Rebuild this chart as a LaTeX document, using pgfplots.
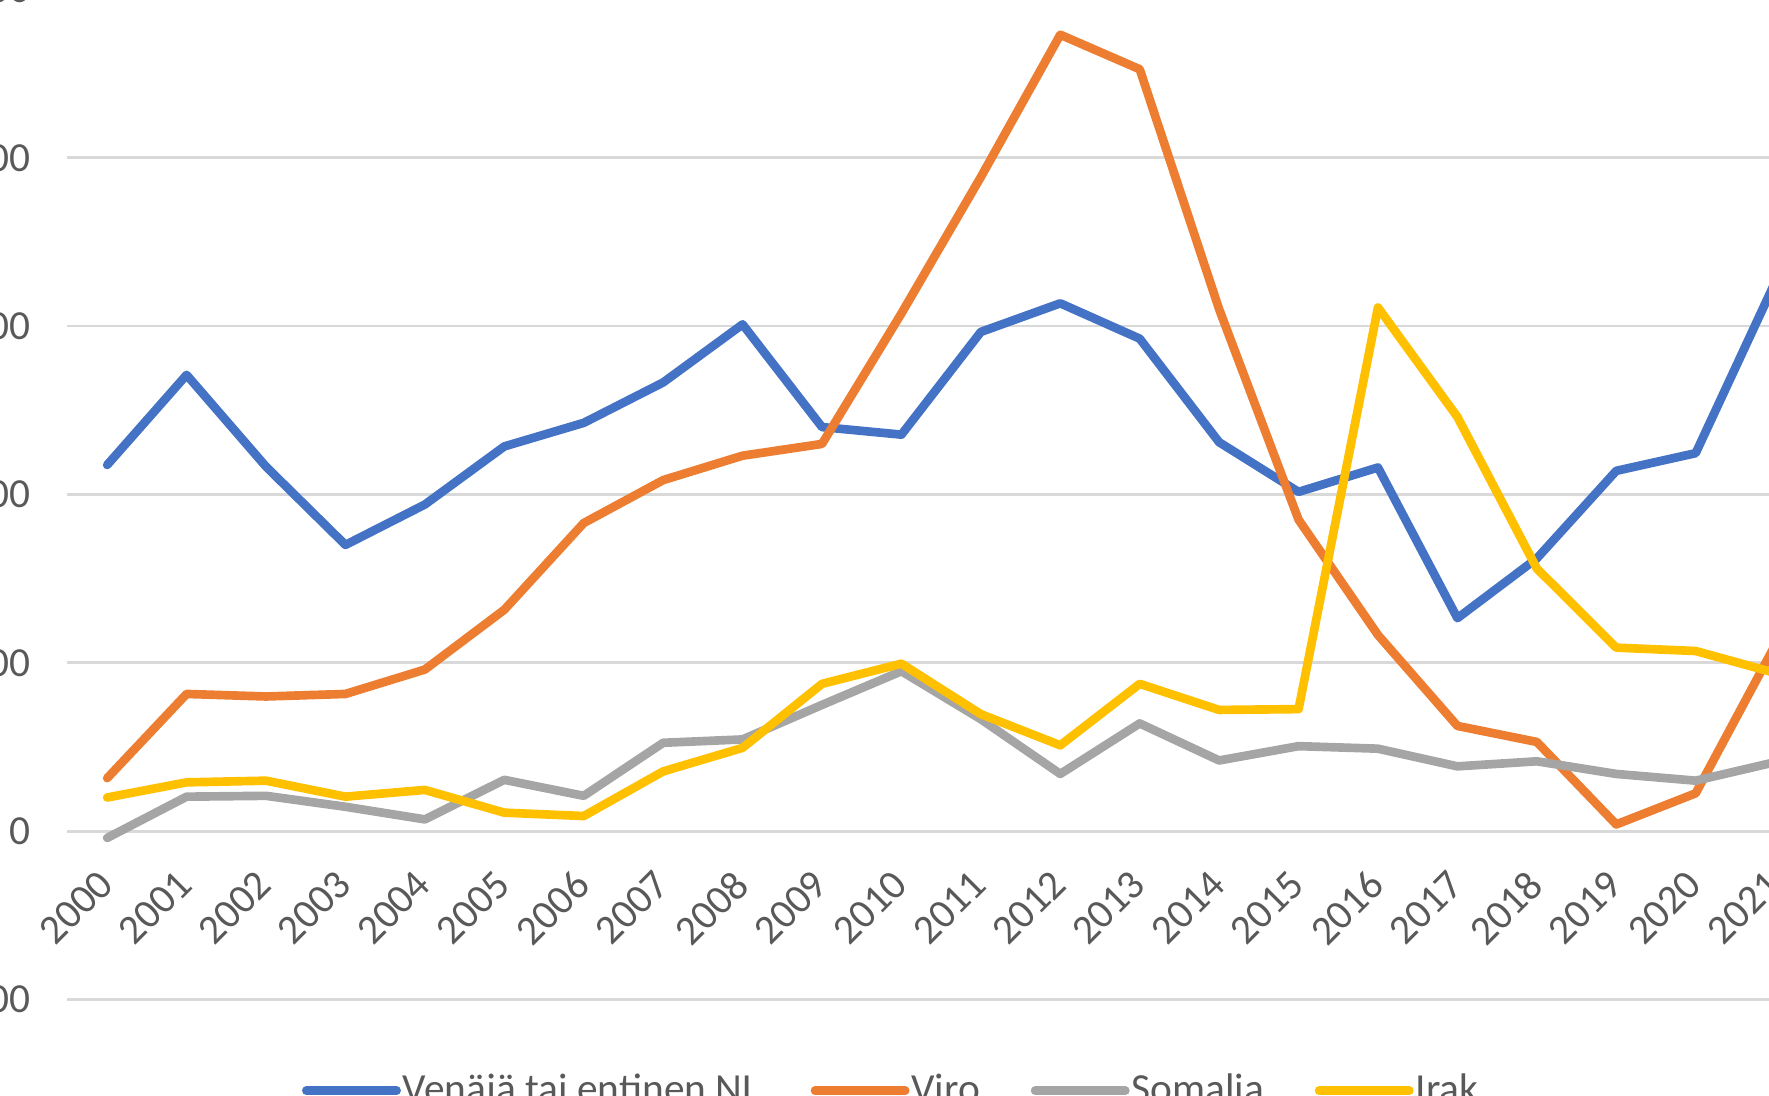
\documentclass[border=0pt]{standalone}
\usepackage{pgfplots}
\pgfplotsset{compat=1.18}
\usepackage{fontspec}
\setmainfont{Carlito}
\definecolor{sblue}{HTML}{4472C4}
\definecolor{sorange}{HTML}{ED7D31}
\definecolor{sgray}{HTML}{A5A5A5}
\definecolor{syellow}{HTML}{FFC000}
\definecolor{gridc}{HTML}{D9D9D9}
\definecolor{txt}{HTML}{595959}
\begin{document}
\begin{tikzpicture}
\useasboundingbox (0,0) rectangle (470.4pt,291.3pt);
\clip (0,0) rectangle (470.4pt,291.3pt);
\begin{axis}[
  at={(17.94pt,25.5pt)}, anchor=south west,
  scale only axis, width=464.64pt, height=268.65pt,
  xmin=1999.5, xmax=2021.5, ymin=-200, ymax=1000,
  xtick={2000,2001,...,2021},
  ytick={-200,0,200,400,600,800,1000},
  ymajorgrids, grid style={gridc, line width=0.75pt},
  axis line style={draw=none}, tick style={draw=none}, major tick length=0pt,
  /pgf/number format/assume math mode=true,
  /pgf/number format/1000 sep={},
  ticklabel style={font=\fontsize{11}{13}\selectfont, text=txt},
  yticklabel style={anchor=east, inner sep=0pt, xshift=-9.7pt},
  xticklabel style={xshift=-3pt, rotate=45, anchor=north east, inner sep=0pt},
  xticklabel shift=-35.2pt,
  every axis plot/.append style={line width=2.3pt, line join=round, line cap=round},
  legend columns=4,
  legend style={at={(0.4708,-0.0902)}, anchor=center, draw=none, fill=none,
    font=\fontsize{11}{13}\selectfont, text=txt,
    /tikz/every even column/.append style={column sep=13.5pt},
    /tikz/every odd column/.append style={column sep=0.5pt},
    nodes={inner sep=0pt}},
  legend image code/.code={\draw[#1, line cap=round] (0pt,0pt) -- (24pt,0pt);},
]
\addplot[sblue, no markers] coordinates {
(2000,435) (2001,542) (2002,433) (2003,340) (2004,388) (2005,457) (2006,485) (2007,533) (2008,602) (2009,480) (2010,471)
(2011,593) (2012,627) (2013,585) (2014,462) (2015,403) (2016,432) (2017,253) (2018,324) (2019,428) (2020,449) (2021,652)};
\addlegendentry{Venäjä tai entinen NL}
\addplot[sorange, no markers] coordinates {
(2000,63) (2001,163) (2002,160) (2003,163) (2004,192) (2005,263) (2006,366) (2007,417) (2008,446) (2009,460) (2010,615)
(2011,777) (2012,946) (2013,905) (2014,620) (2015,370) (2016,233) (2017,125) (2018,106) (2019,8) (2020,45) (2021,221)};
\addlegendentry{Viro}
\addplot[sgray, no markers] coordinates {
(2000,-8) (2001,41) (2002,42) (2003,29) (2004,14) (2005,61) (2006,42) (2007,105) (2008,109) (2009,150) (2010,190)
(2011,133) (2012,68) (2013,128) (2014,84) (2015,101) (2016,98) (2017,77) (2018,83) (2019,68) (2020,60) (2021,82)};
\addlegendentry{Somalia}
\addplot[syellow, no markers] coordinates {
(2000,40) (2001,58) (2002,60) (2003,41) (2004,49) (2005,22) (2006,18) (2007,71) (2008,99) (2009,175) (2010,199)
(2011,139) (2012,102) (2013,175) (2014,144) (2015,145) (2016,622) (2017,492) (2018,312) (2019,218) (2020,214) (2021,188)};
\addlegendentry{Irak}
\end{axis}
\end{tikzpicture}
\end{document}
